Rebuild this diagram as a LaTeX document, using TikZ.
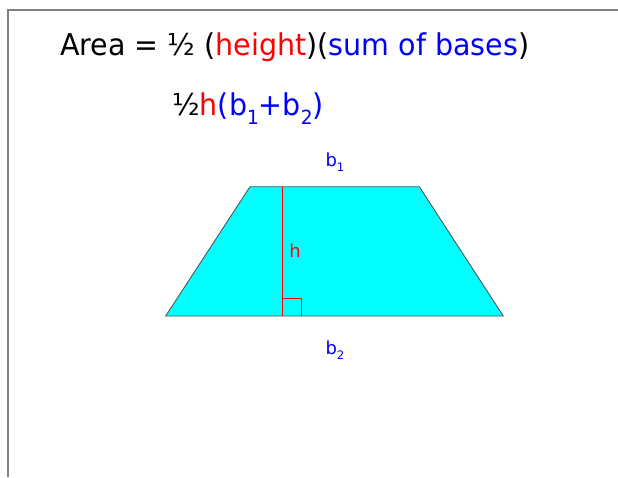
\documentclass[tikz,border=0pt]{standalone}
\usepackage{fontspec}
\setmainfont{DejaVu Sans}
\definecolor{framegray}{HTML}{808080}
\definecolor{edgegray}{HTML}{555555}
\definecolor{cyanfill}{HTML}{00FFFF}
\definecolor{myred}{HTML}{FF0000}
\definecolor{myblue}{HTML}{0000FF}
\newcommand{\sbs}[1]{\raisebox{-0.3em}{\scalebox{0.65}{#1}}}
\begin{document}
\begin{tikzpicture}[x=1pt,y=-1pt,
  title/.style={anchor=base west,inner sep=0pt,font=\fontsize{30}{36}\selectfont},
  small/.style={inner sep=0pt,font=\fontsize{18}{21}\selectfont},
  frameline/.style={draw=framegray,line width=1.5pt}]
\useasboundingbox (0,0) rectangle (618,477);
\draw[frameline] (618,10) -- (8,10) -- (8,477);
% formula text
\node[title] (t1) at (60,55.7) {\scalebox{0.951}[1]{Area = ½ (\textcolor{myred}{height})(\textcolor{myblue}{sum of bases})}};
\node[title] (t2) at (172,115) {\scalebox{0.95}[1]{½\textcolor{myred}{h}\textcolor{myblue}{(b\sbs{1}+b\sbs{2})}}};
% trapezoid
\coordinate (tl) at (250,186.7);
\coordinate (tr) at (419.3,186.7);
\coordinate (br) at (503.3,316);
\coordinate (bl) at (165.7,316);
\draw[fill=cyanfill,draw=edgegray,line width=0.9pt] (tl) -- (tr) -- (br) -- (bl) -- cycle;
\coordinate (htop) at (282.7,186.7);
\coordinate (hbot) at (282.7,316);
\draw[myred,line width=0.8pt] (htop) -- (hbot);
\draw[myred,line width=0.8pt] (282.7,298.3) -- (301,298.3) -- (301,316);
\node[small,text=myred] (h) at (295,251) {h};
\node[small,text=myblue] (b1) at (335,162) {b\sbs{1}};
\node[small,text=myblue] (b2) at (335,350) {b\sbs{2}};
\end{tikzpicture}
\end{document}
